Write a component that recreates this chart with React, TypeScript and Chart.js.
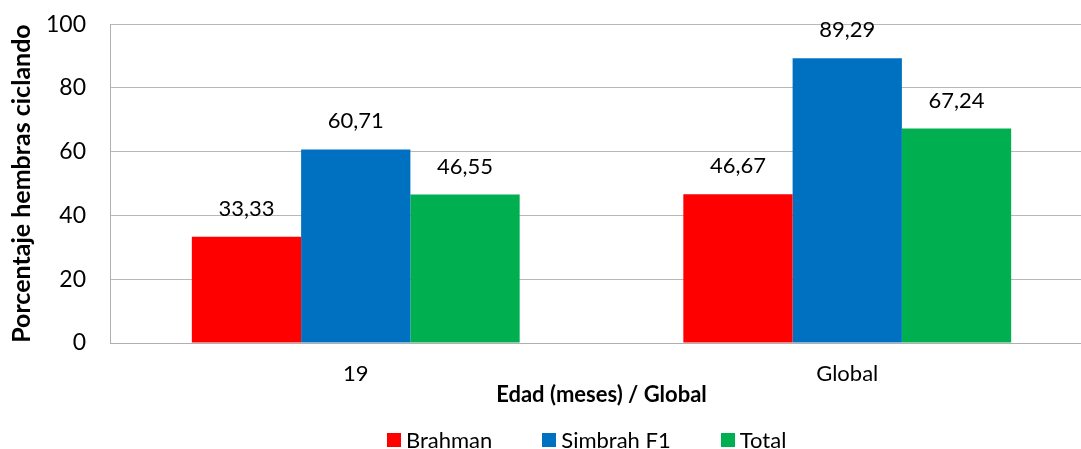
import React, { useEffect, useRef } from "react";
import { Chart, registerables } from "chart.js";

Chart.register(...registerables);

const categories = ["19", "Global"];
const seriesNames = ["Brahman", "Simbrah F1", "Total"];
const brahman = [33.33, 46.67];
const simbrah = [60.71, 89.29];
const total = [46.55, 67.24];
const colors = ["#FF0000", "#0070C0", "#00B050"];
const yTicks = [0, 20, 40, 60, 80, 100];

const FONT = "Lato, 'Open Sans', sans-serif";

const dataLabels = {
  id: "dataLabels",
  afterDatasetsDraw(chart: any) {
    const ctx = chart.ctx;
    ctx.save();
    ctx.font = `22px ${FONT}`;
    ctx.fillStyle = "#000";
    ctx.textAlign = "center";
    ctx.textBaseline = "middle";
    chart.data.datasets.forEach((ds: any, i: number) => {
      const meta = chart.getDatasetMeta(i);
      meta.data.forEach((bar: any, j: number) => {
        const v = ds.data[j] as number;
        const txt = v.toFixed(2).replace(".", ",");
        ctx.fillText(txt, bar.x, bar.y - 28);
      });
    });
    ctx.restore();
  },
};

export default function App() {
  const ref = useRef<HTMLCanvasElement>(null);
  useEffect(() => {
    if (!ref.current) return;
    const chart = new Chart(ref.current, {
      type: "bar",
      data: {
        labels: categories,
        datasets: [brahman, simbrah, total].map((d, i) => ({
          label: seriesNames[i],
          data: d,
          backgroundColor: colors[i],
          borderWidth: 0,
          categoryPercentage: 0.667,
          barPercentage: 1.0,
        })),
      },
      options: {
        animation: false,
        responsive: true,
        maintainAspectRatio: false,
        layout: { padding: { top: 24, left: 0, right: 0, bottom: 43 } },
        plugins: {
          tooltip: { enabled: false },
          legend: { display: false },
        },
        scales: {
          x: {
            grid: { display: false, drawTicks: false },
            border: { display: true, color: "#b0b0b0", width: 1 },
            ticks: { color: "#000", font: { family: FONT, size: 22, lineHeight: 1 }, padding: 20 },
            title: {
              display: true,
              text: "Edad (meses) / Global",
              color: "#000",
              font: { family: FONT, size: 22, weight: "bold", lineHeight: 1 },
              padding: { top: -21, bottom: 0 },
            },
          },
          y: {
            min: 0,
            max: 100,
            afterBuildTicks: (scale: any) => {
              scale.ticks = yTicks.map((v) => ({ value: v }));
            },
            afterFit: (scale: any) => {
              scale.width = 110;
            },
            grid: { color: "#b8b8b8", drawTicks: false, lineWidth: 1 },
            border: { display: true, color: "#b0b0b0", width: 1 },
            ticks: {
              color: "#000",
              font: { family: FONT, size: 23, lineHeight: 0.01 },
              padding: 24,
            },
            title: {
              display: true,
              text: "Porcentaje hembras ciclando",
              color: "#000",
              font: { family: FONT, size: 25, weight: "bold", lineHeight: 1.2 },
              padding: { top: 7, bottom: 0 },
            },
          },
        },
      },
      plugins: [dataLabels],
    });
    return () => chart.destroy();
  }, []);
  return (
    <div style={{ position: "fixed", left: 0, top: 0, width: 1093, height: 449, background: "#fff" }}>
      <canvas ref={ref} />
      <div
        style={{
          position: "absolute",
          left: 387,
          top: 429,
          display: "flex",
          alignItems: "center",
          gap: 50,
          fontFamily: FONT,
          fontSize: 22,
          lineHeight: "22px",
          color: "#000",
          whiteSpace: "nowrap",
        }}
      >
        {seriesNames.map((n, i) => (
          <div key={n} style={{ display: "flex", alignItems: "center" }}>
            <span style={{ display: "inline-block", width: 14, height: 14, background: colors[i], marginRight: 5 }} />
            <span>{n}</span>
          </div>
        ))}
      </div>
    </div>
  );
}
